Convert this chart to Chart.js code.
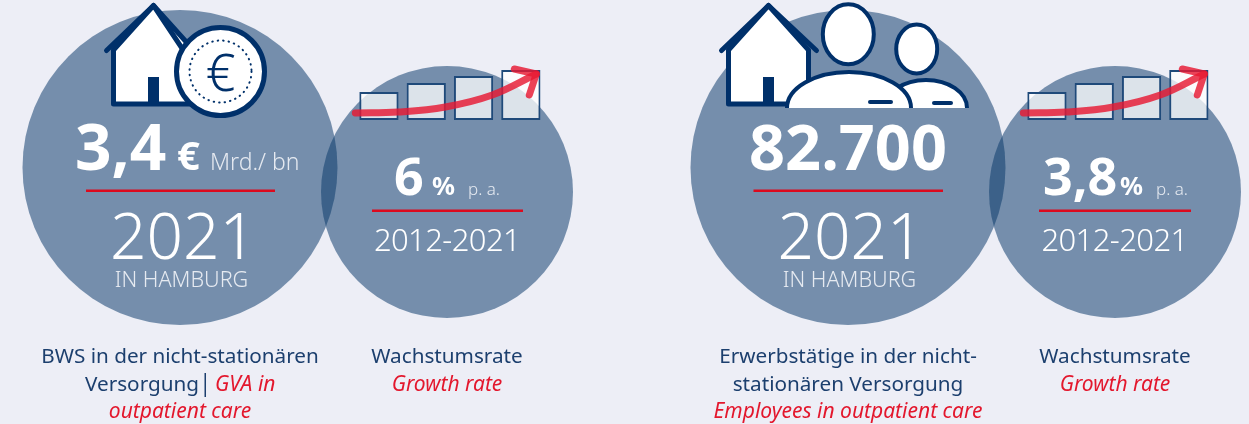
<!DOCTYPE html>
<html>
<head>
<meta charset="utf-8">
<title>Nicht-stationäre Versorgung in Hamburg</title>
<script src="https://cdn.jsdelivr.net/npm/chart.js@4"></script>
<style>
    html, body { margin: 0; padding: 0; background: #edeef6; overflow: hidden; }
    canvas { position: absolute; }
    #main { left: 0; top: 0; }
    #trendA { left: 350px; top: 60px; }
    #trendB { left: 1018px; top: 60px; }
</style>
</head>
<body>
<canvas id="main" width="1249" height="424"></canvas>
<canvas id="trendA" width="200" height="65"></canvas>
<canvas id="trendB" width="200" height="65"></canvas>
<script>
// Values
const headlineValues = ['3,4', '82.700'];
const growthValues = ['6', '3,8'];
const headlineYear = '2021';
const growthPeriod = '2012-2021';
const placeLabel = 'IN HAMBURG';

// Little growth icon: bars and the arrow over them
const barLabels = ['a', 'b', 'c', 'd'];
const barHeights = [28, 37, 44, 50];
const trendX = [0, 43, 90, 137, 181];
const trendY = [7, 8, 13, 25, 46];
const arrowX = [159, 181, 174];
const arrowY = [51, 46, 25];

// Circles, in page units
const circleX = [180, 447, 848, 1115];
const circleY = [167.5, 192, 167.5, 192];
const circleR = [157.5, 126, 157.5, 126];

const NAVY = '#00306a';
const CAPTION = '#1c3f6e';
const RED = '#e3172d';
const RULE = '#dc0a1e';
const SOFT = '#e6eaf1';
const BOLD = '"Noto Sans"';
const LIGHT = '"Noto Sans"';

function put(ctx, text, x, y, font, color, align, spacing) {
    ctx.font = font;
    ctx.fillStyle = color;
    ctx.textAlign = align || 'left';
    ctx.textBaseline = 'alphabetic';
    ctx.letterSpacing = spacing || '0px';
    ctx.fillText(text, x, y);
    ctx.letterSpacing = '0px';
}

function rule(ctx, x1, x2, y) {
    ctx.fillStyle = RULE;
    ctx.fillRect(x1, y, x2 - x1, 2.5);
}

function drawHouse(ctx, apexX, roofRight) {
    ctx.save();
    ctx.lineJoin = 'round';
    ctx.lineCap = 'round';
    ctx.strokeStyle = NAVY;
    ctx.fillStyle = '#fff';
    ctx.lineWidth = 5;
    ctx.beginPath();
    ctx.moveTo(apexX - 40, 50);
    ctx.lineTo(apexX, 5.5);
    ctx.lineTo(apexX + 40, 50);
    ctx.lineTo(apexX + 40, 104);
    ctx.lineTo(apexX - 40, 104);
    ctx.closePath();
    ctx.fill();
    ctx.stroke();
    ctx.beginPath();
    ctx.moveTo(apexX - 47, 50.5);
    ctx.lineTo(apexX, 5.5);
    ctx.lineTo(apexX + roofRight, 50.5);
    ctx.stroke();
    ctx.fillStyle = NAVY;
    ctx.fillRect(apexX - 5.5, 77, 11, 28);
    ctx.restore();
}

function drawCoin(ctx, x, y) {
    ctx.save();
    ctx.beginPath();
    ctx.arc(x, y, 44, 0, Math.PI * 2);
    ctx.fillStyle = '#fff';
    ctx.fill();
    ctx.strokeStyle = NAVY;
    ctx.lineWidth = 5;
    ctx.stroke();
    ctx.beginPath();
    ctx.arc(x, y, 31, 0, Math.PI * 2);
    ctx.lineWidth = 2;
    ctx.lineCap = 'round';
    ctx.setLineDash([0.5, 5]);
    ctx.stroke();
    ctx.restore();
    put(ctx, '€', x, y + 19, '300 52px ' + BOLD, NAVY, 'center');
}

function drawPerson(ctx, headX, headY, rx, ry, bodyX, bodyRx, bodyTop, dashX1, dashX2, dashY) {
    ctx.save();
    ctx.strokeStyle = NAVY;
    ctx.fillStyle = '#fff';
    ctx.lineWidth = 4;
    ctx.beginPath();
    ctx.ellipse(headX, headY, rx, ry, 0, 0, Math.PI * 2);
    ctx.fill();
    ctx.stroke();
    ctx.beginPath();
    ctx.ellipse(bodyX, 108, bodyRx, 108 - bodyTop, 0, Math.PI, Math.PI * 2);
    ctx.fill();
    ctx.stroke();
    ctx.lineCap = 'round';
    ctx.beginPath();
    ctx.moveTo(dashX1, dashY);
    ctx.lineTo(dashX2, dashY);
    ctx.stroke();
    ctx.restore();
}

// Everything that is not a data mark: pictograms, rules and text
const infographicPlugin = {
    id: 'infographic',
    afterDatasetsDraw(chart) {
        const ctx = chart.ctx;
        const W = '#ffffff';

        drawHouse(ctx, 153.5, 30);
        drawCoin(ctx, 220.5, 71.5);

        drawHouse(ctx, 768.5, 48);
        drawPerson(ctx, 916.7, 49, 20.5, 24.5, 926, 41, 80, 934, 951, 103);
        drawPerson(ctx, 848.3, 34.3, 25.5, 30, 849, 62, 72, 870, 891, 102);

        // left pair
        put(ctx, headlineValues[0], 75, 170, '700 64px ' + BOLD, W);
        put(ctx, '€', 177, 170, '700 40px ' + BOLD, W);
        put(ctx, 'Mrd./ bn', 210, 170, '300 23px ' + LIGHT, SOFT);
        rule(ctx, 86, 275, 189.5);
        put(ctx, headlineYear, 183, 259, '300 64px ' + LIGHT, W, 'center');
        put(ctx, placeLabel, 181.5, 287, '300 21.6px ' + LIGHT, SOFT, 'center');

        put(ctx, growthValues[0], 394, 195, '700 52px ' + BOLD, W);
        put(ctx, '%', 432, 195, '700 25.5px ' + BOLD, W);
        put(ctx, 'p. a.', 468, 195, '300 17px ' + LIGHT, SOFT);
        rule(ctx, 372, 523, 209.5);
        put(ctx, growthPeriod, 447, 251, '300 31px ' + LIGHT, W, 'center', '-0.6px');

        // right pair
        put(ctx, headlineValues[1], 848, 170, '700 63px ' + BOLD, W, 'center');
        rule(ctx, 753.5, 943, 189.5);
        put(ctx, headlineYear, 850.5, 259, '300 64px ' + LIGHT, W, 'center');
        put(ctx, placeLabel, 849.5, 287, '300 21.6px ' + LIGHT, SOFT, 'center');

        put(ctx, growthValues[1], 1043, 195, '700 52px ' + BOLD, W);
        put(ctx, '%', 1120, 195, '700 25.5px ' + BOLD, W);
        put(ctx, 'p. a.', 1156, 195, '300 17px ' + LIGHT, SOFT);
        rule(ctx, 1039, 1191, 209.5);
        put(ctx, growthPeriod, 1114.5, 251, '300 31px ' + LIGHT, W, 'center', '-0.6px');

        // captions
        const cap = '400 20.7px ' + BOLD;
        const capIt = 'italic 400 21px ' + BOLD;
        put(ctx, 'BWS in der nicht-stationären', 180, 363, cap, CAPTION, 'center');
        put(ctx, 'Versorgung', 85, 391, cap, CAPTION);
        ctx.fillStyle = CAPTION;
        ctx.fillRect(204.5, 373, 1.5, 24);
        put(ctx, 'GVA in', 215, 391, capIt, RED);
        put(ctx, 'outpatient care', 180, 418, capIt, RED, 'center');

        put(ctx, 'Wachstumsrate', 447, 363, cap, CAPTION, 'center');
        put(ctx, 'Growth rate', 447, 391, capIt, RED, 'center');

        put(ctx, 'Erwerbstätige in der nicht-', 848, 363, cap, CAPTION, 'center');
        put(ctx, 'stationären Versorgung', 848, 391, cap, CAPTION, 'center');
        put(ctx, 'Employees in outpatient care', 848, 418, capIt, RED, 'center');

        put(ctx, 'Wachstumsrate', 1115, 363, cap, CAPTION, 'center');
        put(ctx, 'Growth rate', 1115, 391, capIt, RED, 'center');
    }
};

new Chart(document.getElementById('main'), {
    type: 'bubble',
    data: {
        datasets: [{
            data: circleX.map((x, i) => ({ x: x, y: circleY[i], r: circleR[i] })),
            backgroundColor: 'rgba(12, 58, 107, 0.533)',
            borderWidth: 0,
            hoverRadius: 0,
            clip: false
        }]
    },
    options: {
        responsive: false,
        animation: false,
        layout: { padding: 0, autoPadding: false },
        plugins: { legend: { display: false }, tooltip: { enabled: false } },
        scales: {
            x: { type: 'linear', display: false, min: 0, max: 1249 },
            y: { type: 'linear', display: false, min: 0, max: 424, reverse: true }
        }
    },
    plugins: [infographicPlugin]
});

function trendChart(id) {
    const red = 'rgba(230, 25, 50, 0.82)';
    return new Chart(document.getElementById(id), {
        data: {
            labels: barLabels,
            datasets: [
                {
                    type: 'line',
                    order: 0,
                    xAxisID: 'xTrend',
                    data: trendX.map((x, i) => ({ x: x, y: trendY[i] })),
                    borderColor: red,
                    borderWidth: 7,
                    borderCapStyle: 'round',
                    pointRadius: 0,
                    tension: 0.4,
                    clip: false
                },
                {
                    type: 'line',
                    order: 0,
                    xAxisID: 'xTrend',
                    data: arrowX.map((x, i) => ({ x: x, y: arrowY[i] })),
                    borderColor: red,
                    borderWidth: 7,
                    borderCapStyle: 'round',
                    borderJoinStyle: 'round',
                    pointRadius: 0,
                    clip: false
                },
                {
                    // grouped off, otherwise the second x axis pushes the bars sideways
                    type: 'bar',
                    order: 1,
                    xAxisID: 'x',
                    data: barHeights,
                    backgroundColor: 'rgba(255, 255, 255, 0.75)',
                    borderColor: '#1f4a7a',
                    borderWidth: 2,
                    borderSkipped: false,
                    grouped: false,
                    barPercentage: 0.83,
                    categoryPercentage: 1,
                    clip: false
                }
            ]
        },
        options: {
            responsive: false,
            animation: false,
            layout: { padding: { left: 5.3, right: 5.5, top: 0, bottom: 5 }, autoPadding: false },
            plugins: { legend: { display: false }, tooltip: { enabled: false } },
            scales: {
                x: { type: 'category', display: false, offset: true },
                xTrend: { type: 'linear', display: false, min: 0, max: 189.2 },
                y: { display: false, min: 0, max: 60 }
            }
        }
    });
}

trendChart('trendA');
trendChart('trendB');
</script>
</body>
</html>
